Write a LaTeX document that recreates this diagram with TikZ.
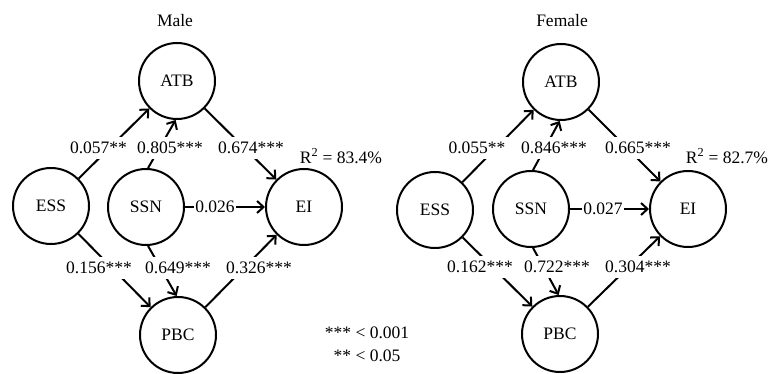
\documentclass[tikz,border=0pt]{standalone}
\usepackage{fontspec}
\setmainfont{Liberation Serif}
\usetikzlibrary{arrows.meta}
\begin{document}
\begin{tikzpicture}[x=1pt,y=-1pt,
  var/.style={circle,draw,line width=2pt,minimum size=76pt,inner sep=0pt,font=\fontsize{17.5}{21}\selectfont},
  lab/.style={fill=white,inner xsep=3pt,inner ysep=5pt,font=\fontsize{17.5}{21}\selectfont},
  txt/.style={inner sep=0pt,font=\fontsize{17.5}{21}\selectfont},
  conn/.style={line width=2pt,-{Straight Barb[length=6.5pt,width=12pt]}}]
\useasboundingbox (0,0) rectangle (776,374);
% ---------- Male ----------
\node[txt] (mtitle) at (175,21) {Male};
\node[var] (matb) at (177,81) {ATB};
\node[var] (mess) at (51,206) {ESS};
\node[var] (mssn) at (146,207) {SSN};
\node[var] (mei) at (304,207) {EI};
\node[var] (mpbc) at (178,335) {PBC};
\draw[conn] (mess) -- (matb);
\draw[conn] (mssn.87) -- (matb.268);
\draw[conn] (matb) -- (mei);
\draw[conn] (mssn) -- (mei);
\draw[conn] (mess) -- (mpbc);
\draw[conn] (mssn.-87) -- (mpbc.92);
\draw[conn] (mpbc) -- (mei);
\node[lab] (m1) at (98.5,148) {0.057**};
\node[lab] (m2) at (170,148) {0.805***};
\node[lab] (m3) at (251,148) {0.674***};
\node[txt] (mr) at (341,156) {R\textsuperscript{2} = 83.4\%};
\node[lab,inner xsep=1.5pt,inner ysep=3pt] (m4) at (215,207) {0.026};
\node[lab] (m5) at (99,268) {0.156***};
\node[lab] (m6) at (178,268) {0.649***};
\node[lab] (m7) at (259,268) {0.326***};
\node[txt] (leg1) at (367,333) {*** < 0.001};
\node[txt] (leg2) at (367,356) {** < 0.05};
% ---------- Female ----------
\node[txt] (ftitle) at (562,21) {Female};
\node[var] (fatb) at (561,82) {ATB};
\node[var] (fess) at (435,210) {ESS};
\node[var] (fssn) at (531,209) {SSN};
\node[var] (fei) at (688,209) {EI};
\node[var] (fpbc) at (560,334) {PBC};
\draw[conn] (fess) -- (fatb);
\draw[conn] (fssn.87) -- (fatb.268);
\draw[conn] (fatb) -- (fei);
\draw[conn] (fssn) -- (fei);
\draw[conn] (fess) -- (fpbc);
\draw[conn] (fssn.-87) -- (fpbc.92);
\draw[conn] (fpbc) -- (fei);
\node[lab] (f1) at (477,148) {0.055**};
\node[lab] (f2) at (554,148) {0.846***};
\node[lab] (f3) at (638,148) {0.665***};
\node[txt] (fr) at (727,156) {R\textsuperscript{2} = 82.7\%};
\node[lab,inner xsep=1.5pt,inner ysep=3pt] (f4) at (603,209) {0.027};
\node[lab] (f5) at (480,267) {0.162***};
\node[lab] (f6) at (557,267) {0.722***};
\node[lab] (f7) at (638,267) {0.304***};
\end{tikzpicture}
\end{document}
